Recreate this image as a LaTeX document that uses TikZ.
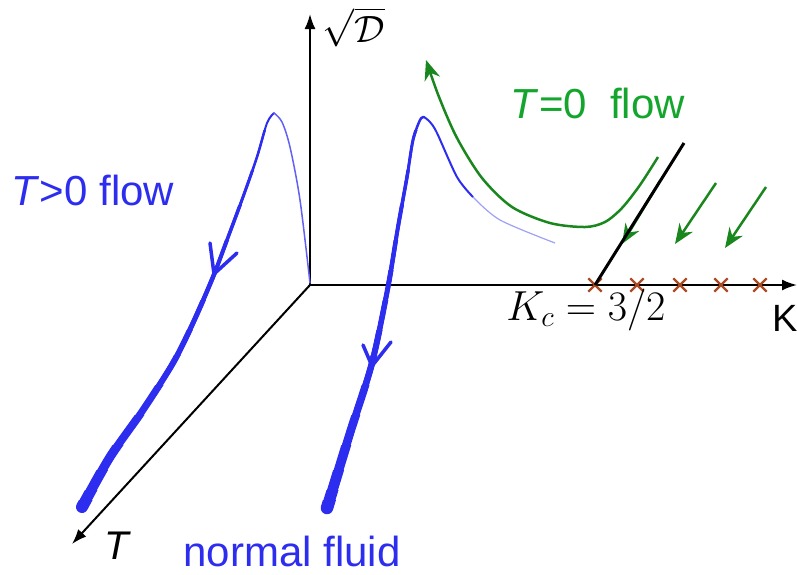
\RequirePackage{fix-cm}
\documentclass[tikz,border=0pt]{standalone}
\usepackage{amsmath,amssymb}
\usepackage{fontspec}
\setmainfont{Liberation Sans}
\usetikzlibrary{arrows.meta,shapes.misc}
\definecolor{flowblue}{RGB}{45,45,240}
\definecolor{flowgreen}{RGB}{25,135,30}
\definecolor{labelgreen}{RGB}{20,165,45}
\definecolor{crossbrown}{RGB}{170,75,35}
\tikzset{
  axis/.style={line width=2pt,-{Latex[length=15pt,width=11pt]}},
  bigtext/.style={font=\fontsize{42}{50}\selectfont,inner sep=0pt},
  flowarrow/.style={flowgreen,line width=2.5pt,-{Stealth[length=20pt,width=16pt]}},
  vhead/.style={flowblue,line width=3.5pt,line cap=round,line join=round},
  kcross/.style={cross out,draw=crossbrown,line width=2.3pt,minimum size=11pt,inner sep=0pt}
}

\begin{document}
\begin{tikzpicture}[x=1pt,y=-1pt]
\useasboundingbox (0,0) rectangle (797,574);
\coordinate (O) at (310,285);
\coordinate (Dtip) at (310,14);
\coordinate (Ktip) at (797,285);
\coordinate (Ttip) at (72,544);
\draw[axis] (O) -- (Dtip);
\draw[axis] (O) -- (Ktip);
\draw[axis] (O) -- (Ttip);

\foreach \x [count=\i] in {595,637,680,721,760}{
\node[kcross] (c\i) at (\x,285) {};
}

\draw[flowarrow] (660,181) -- (622,244);
\draw[line width=3pt] (c1.center) -- (684,143);
\foreach \a/\b in {766/187,716/183}{
\draw[flowarrow] (\a,\b) -- ++(-41,61);
}
\draw[flowarrow] plot[smooth] coordinates {(658,157) (640,185) (622,208) (605,222) (585,227) (550,223) (512,207) (482,178) (457,138) (439,97) (426,60)};

\path[save path=\leftflow] plot[smooth] coordinates {(82,507) (110,457) (143,410) (173,363) (193,323) (213,277) (227,240) (243,197) (257,157) (267,123) (274,113)};
\path[save path=\midflow] plot[smooth] coordinates {(327,508) (350,433) (372,363) (388,287) (398,227) (407,177) (413,140) (420,120) (424,117)};
\foreach \w/\y in {2/0,2.5/130,3/170,3.5/205,4/240,4.5/270,5/300,5.5/330,6/355,7/385,8/415,9/445,10/470,11/490,12/500}{
\begin{scope}
\clip (0,\y) rectangle (797,574);
\path[use path=\leftflow,draw=flowblue,line width=\w pt,line cap=round];
\path[use path=\midflow,draw=flowblue,line width=\w pt+0.5pt,line cap=round];
\end{scope}
}
\draw[flowblue!75,line width=1.5pt,line cap=round] plot[smooth] coordinates {(274,113) (282,122) (290,147) (300,200) (310,283)};
\draw[vhead] (210,243) -- (214,274) -- (237,253);

\draw[flowblue,line width=2pt,line cap=round] plot[smooth] coordinates {(424,117) (430,122) (437,133) (457,177) (473,197)};
\draw[flowblue!45,line width=1.2pt] plot[smooth] coordinates {(473,197) (500,220) (555,243)};
\draw[vhead] (363,345) -- (372,366) -- (391,342);

\node[bigtext,text=flowblue] (tpos) at (93,190) {\textit{T}>0 flow};
\node[bigtext,text=flowblue] (normal) at (292,551) {normal fluid};
\node[bigtext,text=labelgreen] (tzero) at (598,103) {\textit{T}=0\ \ flow};
\node[bigtext] (kc) at (586,310) {$K_c=3/2$};
\node[font=\fontsize{38}{44}\selectfont,inner sep=0pt] (klab) at (785,318) {K};
\node[font=\fontsize{40}{48}\selectfont,inner sep=0pt] (tlab) at (118,546) {\textit{T}};
\node[font=\fontsize{38}{46}\selectfont,inner sep=0pt] (dlab) at (354,27) {$\sqrt{\mathcal{D}}$};
\end{tikzpicture}
\end{document}
